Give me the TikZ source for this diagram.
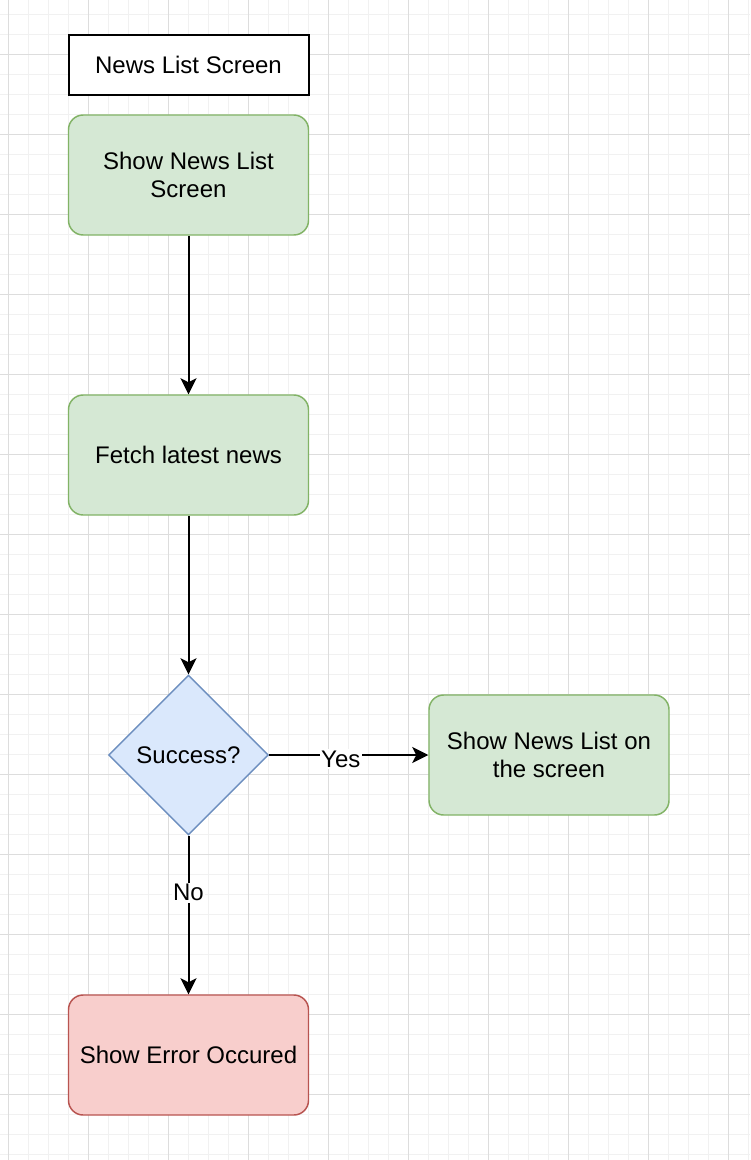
\documentclass[tikz,border=0pt]{standalone}
\usepackage{fontspec}
\setmainfont{Liberation Sans}
\usepackage{tikz}
\usetikzlibrary{shapes.geometric,arrows.meta}
\definecolor{greenfill}{HTML}{D5E8D4}
\definecolor{greenline}{HTML}{82B366}
\definecolor{bluefill}{HTML}{DAE8FC}
\definecolor{blueline}{HTML}{6C8EBF}
\definecolor{redfill}{HTML}{F8CECC}
\definecolor{redline}{HTML}{B85450}
\definecolor{gridminor}{HTML}{F1F1F1}
\definecolor{gridmajor}{HTML}{DDDDDD}

\begin{document}
\begin{tikzpicture}[x=0.75pt,y=-0.75pt,
	every node/.style={font=\fontsize{18}{21}\selectfont, align=center},
	stepbox/.style={draw=greenline, fill=greenfill, line width=1.1pt, rounded corners=11pt, minimum width=180pt, minimum height=90pt},
	errbox/.style={stepbox, draw=redline, fill=redfill},
	ask/.style={diamond, draw=blueline, fill=bluefill, line width=1.1pt, minimum width=120pt, minimum height=120pt, inner sep=0pt},
	arr/.style={line width=1.5pt, -{Stealth[length=12pt,width=12pt,inset=3pt]}},
	lbl/.style={fill=white, inner sep=1pt}]
\useasboundingbox (0,0) rectangle (750,1160);
\fill[white] (0,0) rectangle (750,1160);
% the grid
\foreach \x in {8,28,...,748}
	\draw[gridminor, line width=0.75pt] (\x,0) -- (\x,1160);
\foreach \y in {14,34,...,1154}
	\draw[gridminor, line width=0.75pt] (0,\y) -- (750,\y);
\foreach \x in {8,88,...,728}
	\draw[gridmajor, line width=0.75pt] (\x,0) -- (\x,1160);
\foreach \y in {54,134,...,1094}
	\draw[gridmajor, line width=0.75pt] (0,\y) -- (750,\y);
% end of grid

% title
\node[draw, fill=white, line width=1.5pt, minimum width=180pt, minimum height=45pt] (title) at (188.5,65) {News List Screen};

% boxes
\node[stepbox] (showscreen) at (188.5,175) {Show News List\\Screen};
\node[stepbox] (fetch) at (188.5,455) {Fetch latest news};
\node[ask] (success) at (188.5,755) {Success?};
\node[stepbox] (showlist) at (549,755) {Show News List on\\the screen};
\node[errbox] (error) at (188.5,1055) {Show Error Occured};

% arrows
\draw[arr] (showscreen) -- (fetch);
\draw[arr] (fetch) -- (success);
\draw[arr] (success) -- node[lbl, pos=0.45, yshift=-3pt] (yes) {Yes} (showlist);
\draw[arr] (success) -- node[lbl, pos=0.36] (no) {No} (error);
\end{tikzpicture}
\end{document}
